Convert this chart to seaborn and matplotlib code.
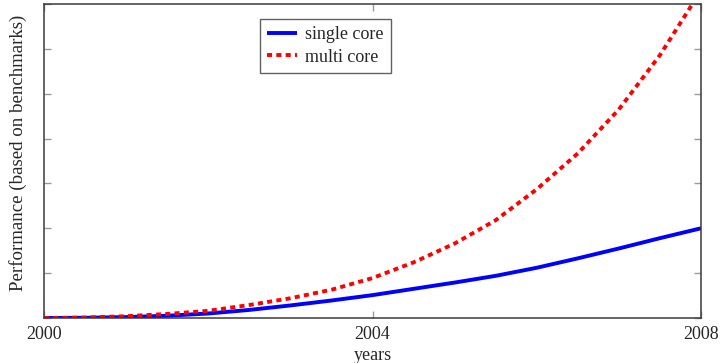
import matplotlib
matplotlib.use("Agg")
import matplotlib.pyplot as plt
import seaborn as sns
import pandas as pd
from matplotlib.lines import Line2D

# Data (half-year steps)
years = [2000, 2000.5, 2001, 2001.5, 2002, 2002.5, 2003, 2003.5, 2004,
         2004.5, 2005, 2005.5, 2006, 2006.5, 2007, 2007.5, 2008]
single_core = [0.0, 0.005, 0.02, 0.05, 0.10, 0.18, 0.28, 0.39, 0.51,
               0.65, 0.79, 0.94, 1.12, 1.33, 1.55, 1.78, 2.0]
multi_core = [0.0, 0.01, 0.04, 0.09, 0.16, 0.29, 0.44, 0.63, 0.89,
              1.24, 1.66, 2.18, 2.87, 3.67, 4.65, 5.86, 7.3]
series_names = ["single core", "multi core"]
x_ticks = [2000, 2004, 2008]
y_ticks = [0, 1, 2, 3, 4, 5, 6, 7]

df = pd.DataFrame({
    "year": years * 2,
    "perf": single_core + multi_core,
    "series": [series_names[0]] * len(years) + [series_names[1]] * len(years),
})

sns.set_style("white")
plt.rcParams["font.family"] = ["Liberation Serif", "DejaVu Serif"]
FS = 13

fig = plt.figure(figsize=(7.2, 3.63), dpi=100)
ax = fig.add_axes([44 / 720, 1 - 318 / 363, 657 / 720, 314 / 363])

sns.lineplot(data=df, x="year", y="perf", hue="series", style="series",
             palette={"single core": "#0000ff", "multi core": "#ff0000"},
             dashes={"single core": "", "multi core": (1.3, 1.1)},
             linewidth=2.8, ax=ax, legend=False)
for ln in ax.lines:
    ln.set_dash_capstyle("butt")
    ln.set_solid_capstyle("butt")

ax.set_xlim(2000, 2008)
ax.set_ylim(0, 7)
ax.set_xticks(x_ticks)
ax.set_xticklabels([str(t) for t in x_ticks], fontsize=FS)
ax.set_yticks(y_ticks)
ax.set_yticklabels([])
ax.tick_params(axis="both", direction="in", length=5, width=1, color="#9a9a9a",
               top=True, right=True, left=True, bottom=True, pad=6)
for s in ax.spines.values():
    s.set_color("#3a3a3a")
    s.set_linewidth(1.1)

ax.set_xlabel("years", fontsize=FS, labelpad=3)
ax.set_ylabel("Performance (based on benchmarks)", fontsize=13.6)
ax.yaxis.set_label_coords(-0.0265, 0.527)

handles = [
    Line2D([], [], color="#0000ff", lw=2.8, solid_capstyle="butt"),
    Line2D([], [], color="#ff0000", lw=2.8, linestyle=(0, (1.3, 1.1)), dash_capstyle="butt"),
]
leg = ax.legend(handles, series_names, loc="upper left",
                bbox_to_anchor=((260 - 44) / 657, (318 - 19) / 314),
                fontsize=FS, frameon=True, fancybox=False, handlelength=1.65,
                handletextpad=0.45, borderpad=0.4, labelspacing=0.3,
                borderaxespad=0)
leg.get_frame().set_edgecolor("#3a3a3a")
leg.get_frame().set_linewidth(1.0)

fig.savefig("out.png", dpi=100)
